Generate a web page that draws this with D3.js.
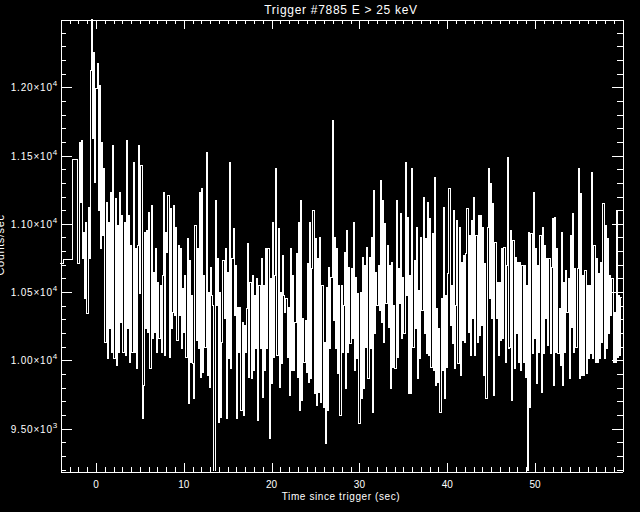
<!DOCTYPE html>
<html>
<head>
<meta charset="utf-8">
<script src="https://cdn.jsdelivr.net/npm/d3@7"></script>
<style>
  html, body { margin: 0; padding: 0; background: #000; }
  svg { display: block; background: #000; }
  text { fill: #fff; font-family: "Liberation Sans", Arial, sans-serif; }
  .axis path, .axis line { stroke: #fff; stroke-width: 1; shape-rendering: crispEdges; }
  .axis text { display: none; }
</style>
</head>
<body>
<svg width="640" height="512"></svg>
<script>
// ---------------------------------------------------------------
// DATA
// ---------------------------------------------------------------
const titleText = "Trigger #7885 E > 25 keV";
const xTitleText = "Time since trigger (sec)";
const yTitleText = "Counts/sec";

// coarse pre-trigger bins (start time, counts)
const preTimes = [-4.096, -3.66, -2.62];
const preCounts = [10707, 10738, 11470];

// fine bins from -2.048 s, 0.128 s wide
const fineStart = -2.048;
const fineWidth = 0.128;
const endTime = 59.904;
const fineCounts = [
  10707, 11597, 11158, 11609, 10743, 10938, 10450, 11012, 10341, 11121,
  10743, 12122, 12650, 11622, 12256, 11304, 11988, 12171, 11097, 12012,
  10816, 11597, 10914, 11402, 10133, 11158, 10011, 11012, 10231, 11231,
  10060, 11573, 10011, 11182, 9962, 10987, 10060, 11231, 10280, 11060,
  10060, 11012, 10036, 11609, 10231, 11060, 9987, 10841, 10060, 11451,
  10060, 10816, 9938, 10841, 11573, 10487, 11426, 9572, 9816, 10938,
  10231, 10951, 10206, 11085, 9938, 11134, 10158, 10646, 10206, 10816,
  10060, 10572, 10158, 10548, 10060, 10621, 11231, 10036, 10938, 10792,
  11207, 10023, 11109, 10231, 10353,
  11134, 10328, 10975, 10145, 10841, 10328, 10816, 10084, 10524, 10206,
  10621, 10023, 10890, 9682, 10731, 9987, 10475, 9975, 9718, 10987,
  10145, 10816, 10084, 11231, 9877, 11256, 9914, 10621, 10097, 11524,
  9889, 10499, 9804, 10682, 10475, 10402, 9182, 11170, 10402, 10743,
  9548, 10499, 9584, 10133, 10731, 10304, 10816, 9572, 10646, 10011,
  11451, 9938, 10743, 10963, 10328, 10694, 9572, 10389, 10060, 10389,
  9633, 10280, 9596, 10255, 10060, 10377, 10853, 9877, 10572, 9865,
  10621, 9926, 10475, 10084, 10597, 9560, 10548, 10084, 10743, 9731,
  10548, 9926, 10816, 10084, 10816, 9426, 10597, 9828, 11012, 10023,
  10621, 11402, 10036, 10963, 9804, 10499, 9975, 10768, 10475, 10353,
  10450, 10023, 10389, 9743, 10816, 9926, 10621, 9926, 10280, 10780,
  9877, 11012, 9633, 11170, 9706, 10304, 9987, 10292, 9914, 10707,
  9840, 11012, 9865, 10670, 11097, 9755, 10890, 9670, 10743, 9767,
  10902, 9694, 10548, 9657, 10133, 9389, 10536, 9633, 10682, 10084,
  10609, 11756, 10292, 10902, 10084, 10816, 9901, 10548, 9596, 10548,
  10060, 10402, 10792, 9792, 10951, 10060, 10682, 10121, 10670, 10158,
  11012, 9926, 10609, 10011, 10487, 9535, 10499, 9718, 10755, 9792,
  10694, 10097, 10829, 9865, 10755, 10084, 10902, 9621, 11243, 10194,
  10646, 10402, 10694, 10365, 11317, 10280, 11170, 10133, 10999, 10414,
  10841, 10243, 10694, 9792, 10719, 9950, 10402, 9938, 11170,
  10023, 10670, 10414, 11073, 10158, 10609, 10194, 11451, 10475, 11048,
  9755, 10621, 9755, 11402, 10097, 10731, 10231, 10975, 9865, 10511,
  10011, 10902, 10365, 11195, 10194, 10890, 10048, 11158, 10036, 11036,
  9950, 10926, 9926, 11341, 9816, 10377, 9840, 10231, 9621, 10450,
  9926, 11121, 9718, 10475, 9950, 10633, 11256, 10255, 10548, 10121,
  11097, 9938, 10402, 11024, 9975, 10975, 9889, 10719, 10145, 10768,
  10133, 10780, 11109, 10206, 10914, 10036, 11024, 10304, 11195, 10036,
  10914, 10133, 11060, 10182, 11060, 10255, 10975, 9889, 10707, 9718,
  10975, 11402, 10450, 11292, 10304, 11146, 9743, 10865, 10304, 10572,
  10036, 10572, 10145, 10816, 10158, 10829, 9987, 10694, 11487, 10084,
  10097, 10951, 9706, 10877, 9938, 10755, 10194, 10719, 9987, 10719,
  9926, 10694, 9987, 10694, 9877, 10548, 9182, 10938, 9657, 10926,
  10048, 11231, 10158, 10816, 9828, 10694, 10060, 10914, 9767, 10975,
  10048, 10841, 10304, 10743, 10109, 10743, 10048, 10682, 11036, 9816,
  11048, 10060, 10816, 10048, 10377, 9962, 10938, 9816, 10572, 10060,
  10658, 10353, 10597, 9865, 10914, 10243, 11073, 10060, 10670, 10097,
  10670, 11402, 9865, 11219, 9889, 10621, 9889, 10658, 9901, 10548,
  10011, 10548, 10048, 11378, 10011, 10841, 9987, 10743, 9987, 10633,
  10011, 10719, 10133, 11146, 10011, 10987, 10084, 10890, 10194, 10621,
  10328, 10597, 9987, 10353, 9987, 11097, 10023, 10475, 10036, 10462
];

// ticks
const xMajorTicks = [0, 10, 20, 30, 40, 50];
const xTickLabels = ["0", "10", "20", "30", "40", "50"];
const xMinorTicks = [-4, -3, -2, -1, 1, 2, 3, 4, 5, 6, 7, 8, 9,
  11, 12, 13, 14, 15, 16, 17, 18, 19, 21, 22, 23, 24, 25, 26, 27, 28, 29,
  31, 32, 33, 34, 35, 36, 37, 38, 39, 41, 42, 43, 44, 45, 46, 47, 48, 49,
  51, 52, 53, 54, 55, 56, 57, 58, 59];
const yMajorTicks = [9500, 10000, 10500, 11000, 11500, 12000];
const yTickMant = ["9.50", "1.00", "1.05", "1.10", "1.15", "1.20"];
const yTickExp = ["3", "4", "4", "4", "4", "4"];
const yMinorTicks = [9200, 9300, 9400, 9600, 9700, 9800, 9900,
  10100, 10200, 10300, 10400, 10600, 10700, 10800, 10900,
  11100, 11200, 11300, 11400, 11600, 11700, 11800, 11900,
  12100, 12200, 12300, 12400];

// ---------------------------------------------------------------
// SETUP
// ---------------------------------------------------------------
var margin = { left: 60, top: 19, right: 18, bottom: 41 };
var outerWidth = 640, outerHeight = 512;
var x0 = margin.left, x1 = outerWidth - margin.right;
var y0 = margin.top, y1 = outerHeight - margin.bottom;

const xScale = d3.scaleLinear().domain([-4.096, 59.904]).range([x0, x1]);
const yScale = d3.scaleLinear().domain([9190, 12500]).range([y1, y0]);

var svg = d3.select("svg");

// histogram points (bin start, counts) + closing point
var pts = preTimes.map((t, i) => [t, preCounts[i]]);
fineCounts.forEach((v, i) => pts.push([fineStart + i * fineWidth, v]));
pts.push([endTime, fineCounts[fineCounts.length - 1]]);

svg.append("clipPath").attr("id", "plot-clip")
  .append("rect")
  .attr("x", x0).attr("y", y0)
  .attr("width", x1 - x0).attr("height", y1 - y0);

var line = d3.line()
  .x(d => xScale(d[0]))
  .y(d => yScale(d[1]))
  .curve(d3.curveStepAfter);

svg.append("path")
  .datum(pts)
  .attr("clip-path", "url(#plot-clip)")
  .attr("d", line)
  .attr("fill", "none")
  .attr("stroke", "#fff")
  .attr("stroke-width", 1)
  .attr("shape-rendering", "crispEdges");

// ---------------------------------------------------------------
// AXES (IDL style box, ticks pointing in)
// ---------------------------------------------------------------
function addAxis(axis, tx, ty) {
  return svg.append("g")
    .attr("class", "axis")
    .attr("transform", "translate(" + tx + "," + ty + ")")
    .call(axis.tickSizeOuter(0).tickFormat(""));
}
addAxis(d3.axisBottom(xScale).tickValues(xMajorTicks).tickSize(-9), 0, y1 + 0.5);
addAxis(d3.axisBottom(xScale).tickValues(xMinorTicks).tickSize(-4.5), 0, y1 + 0.5);
addAxis(d3.axisTop(xScale).tickValues(xMajorTicks).tickSize(-9), 0, y0 + 0.5);
addAxis(d3.axisTop(xScale).tickValues(xMinorTicks).tickSize(-4.5), 0, y0 + 0.5);
addAxis(d3.axisLeft(yScale).tickValues(yMajorTicks).tickSize(-11), x0 + 0.5, 0);
addAxis(d3.axisLeft(yScale).tickValues(yMinorTicks).tickSize(-5.5), x0 + 0.5, 0);
addAxis(d3.axisRight(yScale).tickValues(yMajorTicks).tickSize(-11), x1 + 0.5, 0);
addAxis(d3.axisRight(yScale).tickValues(yMinorTicks).tickSize(-5.5), x1 + 0.5, 0);

// x tick labels
svg.append("g").selectAll("text")
  .data(xMajorTicks)
  .join("text")
  .attr("x", d => xScale(d))
  .attr("y", y1 + 17)
  .attr("text-anchor", "middle")
  .attr("font-size", 10)
  .text((d, i) => xTickLabels[i]);

// y tick labels  m.mm x 10^e
var yl = svg.append("g").selectAll("text")
  .data(yMajorTicks)
  .join("text")
  .attr("x", x0 - 2)
  .attr("y", d => yScale(d) + 4)
  .attr("text-anchor", "end")
  .attr("font-size", 10)
  .style("letter-spacing", "0.8px");
yl.append("tspan").text((d, i) => yTickMant[i] + "\u00d710");
yl.append("tspan").attr("dy", -5).attr("font-size", 8).text((d, i) => yTickExp[i]);

// titles
svg.append("text")
  .attr("x", (x0 + x1) / 2).attr("y", 14)
  .attr("text-anchor", "middle")
  .attr("font-size", 12)
  .style("letter-spacing", "0.7px")
  .text(titleText);

svg.append("text")
  .attr("x", (x0 + x1) / 2).attr("y", y1 + 29)
  .attr("text-anchor", "middle")
  .attr("font-size", 10)
  .style("letter-spacing", "0.6px")
  .text(xTitleText);

// y title sits at the very left edge, mostly off the canvas as in the original
svg.append("text")
  .attr("transform", "translate(4," + (y0 + y1) / 2 + ") rotate(-90)")
  .attr("text-anchor", "middle")
  .attr("font-size", 11)
  .style("letter-spacing", "0.6px")
  .text(yTitleText);
</script>
</body>
</html>
